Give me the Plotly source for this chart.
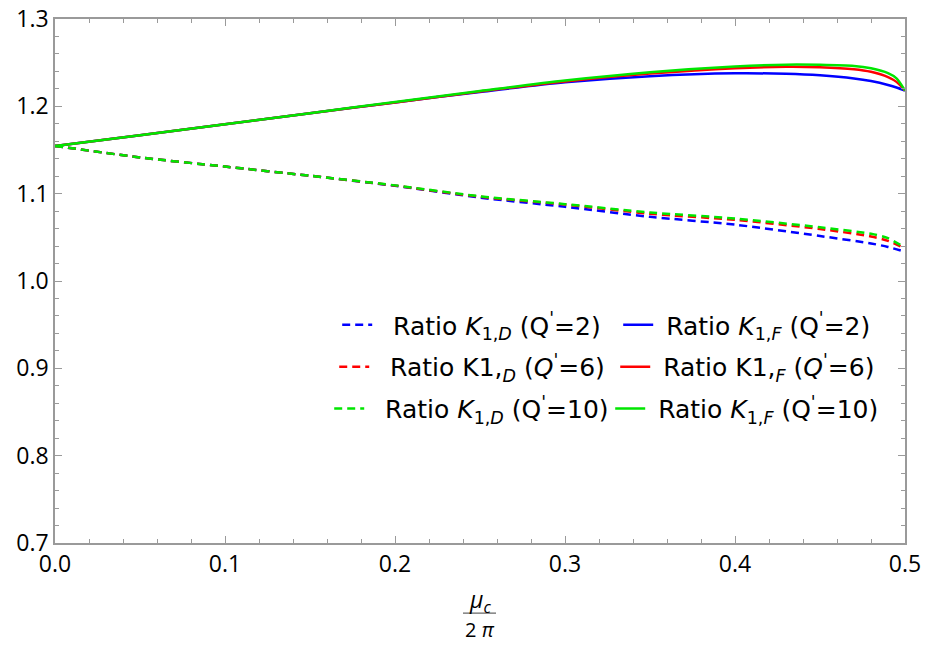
import plotly.graph_objects as go

# ---------------- data ----------------
x_f = [0.0, 0.05, 0.1, 0.15, 0.2, 0.25, 0.3, 0.35, 0.4, 0.43, 0.45, 0.47, 0.48, 0.49, 0.495, 0.5]
f_q2 = [1.1547, 1.167, 1.1795, 1.192, 1.2045, 1.2165, 1.2275, 1.2345, 1.2378, 1.2372, 1.2355, 1.232, 1.229, 1.2245, 1.2215, 1.218]
f_q6 = [1.1547, 1.167, 1.1795, 1.192, 1.2045, 1.217, 1.2285, 1.2375, 1.2437, 1.2453, 1.2448, 1.2425, 1.2395, 1.2335, 1.228, 1.218]
f_q10 = [1.1547, 1.167, 1.1795, 1.1922, 1.205, 1.2175, 1.2295, 1.239, 1.2455, 1.2477, 1.2475, 1.2462, 1.2435, 1.238, 1.232, 1.218]

x_d = [0.0, 0.05, 0.1, 0.15, 0.2, 0.25, 0.3, 0.35, 0.4, 0.45, 0.48, 0.49, 0.5]
d_q2 = [1.1547, 1.1415, 1.131, 1.1205, 1.109, 1.0955, 1.085, 1.0735, 1.0645, 1.0515, 1.043, 1.039, 1.0335]
d_q6 = [1.1547, 1.1415, 1.131, 1.1205, 1.1092, 1.0965, 1.0875, 1.077, 1.070, 1.0595, 1.051, 1.046, 1.037]
d_q10 = [1.1547, 1.1415, 1.131, 1.1205, 1.1095, 1.097, 1.088, 1.0785, 1.0715, 1.0615, 1.054, 1.049, 1.038]

pad2 = "\u00a0\u00a0"
pad1 = "\u00a0"
names = [
    pad2 + "Ratio <i>K</i><sub>1,<i>D</i></sub> (Q<sup>'</sup>=2)",
    pad1 + "Ratio <i>K</i><sub>1,<i>F</i></sub> (Q<sup>'</sup>=2)",
    pad2 + "Ratio K1,<sub><i>D</i></sub> (<i>Q</i><sup>'</sup>=6)",
    pad1 + "Ratio K1,<sub><i>F</i></sub> (<i>Q</i><sup>'</sup>=6)",
    pad2 + "Ratio <i>K</i><sub>1,<i>D</i></sub> (Q<sup>'</sup>=10)",
    pad1 + "Ratio <i>K</i><sub>1,<i>F</i></sub> (Q<sup>'</sup>=10)",
]
colors = ["#0000FF", "#FF0000", "#00E600"]
x_ticks = [0.0, 0.1, 0.2, 0.3, 0.4, 0.5]
y_ticks = [0.7, 0.8, 0.9, 1.0, 1.1, 1.2, 1.3]

# ---------------- figure ----------------
fig = go.Figure()
series = [(d_q2, f_q2), (d_q6, f_q6), (d_q10, f_q10)]
legends = ["legend", "legend2", "legend3"]
for i, (dv, fv) in enumerate(series):
    fig.add_trace(go.Scatter(x=x_d, y=dv, mode="lines", name=names[2 * i],
                             line=dict(color=colors[i], width=2.5, dash="8px,5px", shape="spline", smoothing=0.8),
                             legend=legends[i]))
    fig.add_trace(go.Scatter(x=x_f, y=fv, mode="lines", name=names[2 * i + 1],
                             line=dict(color=colors[i], width=2.5, shape="spline", smoothing=0.8),
                             legend=legends[i]))

axis_common = dict(
    showline=True, linecolor="#9a9a9a", linewidth=1.5, mirror="ticks",
    ticks="inside", ticklen=7, tickcolor="#9a9a9a", tickwidth=1.2,
    showgrid=False, zeroline=False, automargin=False, ticklabeloverflow="allow",
    tickfont=dict(family="Open Sans", size=23, color="black"),
)
fig.update_xaxes(range=[0, 0.5], tickvals=x_ticks, tickformat=".1f",
                 minor=dict(ticks="inside", dtick=0.02, ticklen=4, tickcolor="#9a9a9a", tickwidth=1), **axis_common)
fig.update_yaxes(range=[0.7, 1.3], tickvals=y_ticks, tickformat=".1f",
                 minor=dict(ticks="inside", dtick=0.02, ticklen=4, tickcolor="#9a9a9a", tickwidth=1), **axis_common)

leg_font = dict(family="DejaVu Sans", size=25, color="black")
leg_common = dict(orientation="h", font=leg_font, bgcolor="rgba(0,0,0,0)", xanchor="left", yanchor="middle",
                  entrywidth=236, tracegroupgap=0, itemclick=False)
fig.update_layout(
    legend=dict(x=0.332, y=0.416, **leg_common),
    legend2=dict(x=0.3285, y=0.336, **leg_common),
    legend3=dict(x=0.3226, y=0.256, **leg_common),
)

# x-axis title as fraction mu_c / 2 pi
fig.add_annotation(text="<i>μ</i><sub><i>c</i></sub>", x=0.5, y=-0.109, xref="paper", yref="paper",
                   showarrow=False, font=dict(family="Open Sans", size=23, color="black"), yanchor="middle")
fig.add_shape(type="line", xref="paper", yref="paper", x0=(463 - 55) / 850, x1=(496 - 55) / 850,
              y0=-0.134, y1=-0.134, line=dict(color="#666666", width=1.2))
fig.add_annotation(text="2 <i>π</i>", x=0.5, y=-0.165, xref="paper", yref="paper",
                   showarrow=False, font=dict(family="Open Sans", size=20, color="black"), yanchor="middle")

fig.update_layout(
    width=918, height=631,
    margin=dict(l=47, r=21, t=11, b=96, autoexpand=False),
    plot_bgcolor="white", paper_bgcolor="white",
    showlegend=True,
)

fig.write_html("out.html")
